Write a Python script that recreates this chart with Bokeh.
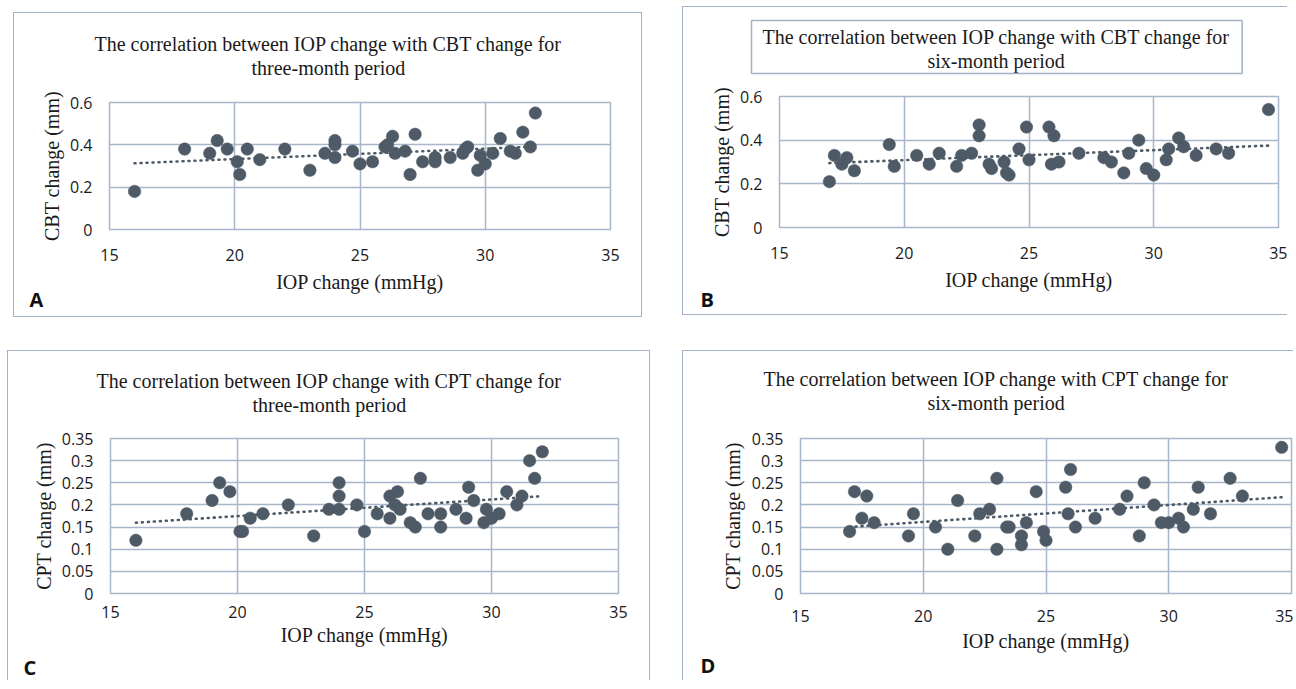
import numpy as np
from bokeh.plotting import figure
from bokeh.layouts import column, row
from bokeh.models import Title, FixedTicker
from bokeh.embed import file_html
from bokeh.resources import INLINE

# ---------------- data ----------------
x_ticks = [15, 20, 25, 30, 35]
cbt_ticks = [0, 0.2, 0.4, 0.6]
cbt_tick_labels = ["0", "0.2", "0.4", "0.6"]
cpt_ticks = [0, 0.05, 0.1, 0.15, 0.2, 0.25, 0.3, 0.35]
cpt_tick_labels = ["0", "0.05", "0.1", "0.15", "0.2", "0.25", "0.3", "0.35"]

iop_a = [16, 18, 19, 19.3, 19.7, 20.1, 20.2, 20.5, 21, 22, 23, 23.6, 24, 24, 24,
         24.7, 25, 25.5, 26, 26.1, 26.3, 26.4, 26.8, 27, 27.2, 27.5, 28, 28, 28.6,
         29.1, 29.2, 29.3, 29.7, 29.8, 30, 30.3, 30.6, 31, 31.2, 31.5, 31.8, 32]
cbt_a = [0.18, 0.38, 0.36, 0.42, 0.38, 0.32, 0.26, 0.38, 0.33, 0.38, 0.28, 0.36,
         0.42, 0.40, 0.34, 0.37, 0.31, 0.32, 0.39, 0.40, 0.44, 0.36, 0.37, 0.26,
         0.45, 0.32, 0.34, 0.32, 0.34, 0.36, 0.38, 0.39, 0.28, 0.35, 0.31, 0.36,
         0.43, 0.37, 0.36, 0.46, 0.39, 0.55]

iop_b = [17, 17.2, 17.5, 17.7, 18, 19.4, 19.6, 20.5, 21, 21.4, 22.1, 22.3, 22.7,
         23, 23, 23.4, 23.5, 24, 24.1, 24.2, 24.6, 24.9, 25, 25.8, 26, 25.9, 26.2,
         27, 28, 28.3, 28.8, 29, 29.4, 29.7, 30, 30.5, 30.6, 31, 31.2, 31.7, 32.5,
         33, 34.6]
cbt_b = [0.21, 0.33, 0.29, 0.32, 0.26, 0.38, 0.28, 0.33, 0.29, 0.34, 0.28, 0.33,
         0.34, 0.47, 0.42, 0.29, 0.27, 0.30, 0.25, 0.24, 0.36, 0.46, 0.31, 0.46,
         0.42, 0.29, 0.30, 0.34, 0.32, 0.30, 0.25, 0.34, 0.40, 0.27, 0.24, 0.31,
         0.36, 0.41, 0.37, 0.33, 0.36, 0.34, 0.54]

iop_c = [16, 18, 19, 19.3, 19.7, 20.1, 20.2, 20.5, 21, 22, 23, 23.6, 24, 24, 24,
         24.7, 25, 25.5, 26, 26, 26.2, 26.3, 26.4, 26.8, 27, 27.2, 27.5, 28, 28,
         28.6, 29, 29.1, 29.3, 29.7, 29.8, 30, 30.3, 30.6, 31, 31.2, 31.5, 31.7, 32]
cpt_c = [0.12, 0.18, 0.21, 0.25, 0.23, 0.14, 0.14, 0.17, 0.18, 0.20, 0.13, 0.19,
         0.25, 0.22, 0.19, 0.20, 0.14, 0.18, 0.22, 0.17, 0.20, 0.23, 0.19, 0.16,
         0.15, 0.26, 0.18, 0.18, 0.15, 0.19, 0.17, 0.24, 0.21, 0.16, 0.19, 0.17,
         0.18, 0.23, 0.20, 0.22, 0.30, 0.26, 0.32]

iop_d = [17, 17.2, 17.5, 17.7, 18, 19.4, 19.6, 20.5, 21, 21.4, 22.1, 22.3, 22.7,
         23, 23, 23.4, 23.5, 24, 24, 24.2, 24.6, 24.9, 25, 25.8, 25.9, 26, 26.2,
         27, 28, 28.3, 28.8, 29, 29.4, 29.7, 30, 30.4, 30.6, 31, 31.2, 31.7, 32.5,
         33, 34.6]
cpt_d = [0.14, 0.23, 0.17, 0.22, 0.16, 0.13, 0.18, 0.15, 0.10, 0.21, 0.13, 0.18,
         0.19, 0.26, 0.10, 0.15, 0.15, 0.13, 0.11, 0.16, 0.23, 0.14, 0.12, 0.24,
         0.18, 0.28, 0.15, 0.17, 0.19, 0.22, 0.13, 0.25, 0.20, 0.16, 0.16, 0.17,
         0.15, 0.19, 0.24, 0.18, 0.26, 0.22, 0.33]

title_a = ["The correlation between IOP change with CBT change for", "three-month period"]
title_b = ["The correlation between IOP change with CBT change for", "six-month period"]
title_c = ["The correlation between IOP change with CPT change for", "three-month period"]
title_d = ["The correlation between IOP change with CPT change for", "six-month period"]
x_label = "IOP change (mmHg)"
y_label_cbt = "CBT change (mm)"
y_label_cpt = "CPT change (mm)"

# ---------------- style ----------------
SERIF = "Liberation Serif"
SANS = "Open Sans"
GRID = "#a7b6cb"
PANEL_BORDER = "#a3b2c8"
DOT = "#4e5b66"
TXT = "#1a1a1a"
TSIZE = 20

# Times / Liberation Serif advance widths (1/1000 em), used only to centre lines
_W = {' ': 250, 'T': 611, 'h': 500, 'e': 444, 'c': 444, 'o': 500, 'r': 333,
      'l': 278, 'a': 444, 't': 278, 'i': 278, 'n': 500, 'b': 500, 'w': 722,
      'I': 333, 'O': 722, 'P': 556, 'g': 500, 'C': 667, 'B': 667, 'f': 333,
      's': 389, 'x': 500, 'm': 778, '-': 333, 'p': 500, 'd': 500}


def text_w(s):
    return sum(_W.get(ch, 500) for ch in s) * TSIZE / 1000.0


def make_panel(W, H, left, right, top, bottom, ymax, yticks, ylabels, xs, ys,
               lines, ylab, letter, title_cx, line2_standoff, letter_x,
               letter_standoff, sides, box=None, margin=(0, 0, 0, 0),
               ylab_standoff=4, letter_above_bottom=None, x_standoffs=(19, 7)):
    p = figure(width=W, height=H, x_range=(15, 35), y_range=(0, ymax),
               output_backend="svg", toolbar_location=None, title=None,
               min_border_left=left, min_border_right=right,
               min_border_top=top, min_border_bottom=bottom)
    p.margin = margin
    st = {"box-sizing": "border-box"}
    for s in ["top", "right", "bottom", "left"]:
        st["border-" + s] = ("1.5px solid " + PANEL_BORDER) if s in sides else "none"
    p.styles = st
    p.background_fill_color = "white"
    p.border_fill_color = "white"
    p.outline_line_color = GRID
    p.outline_line_width = 1.5

    p.xaxis.ticker = FixedTicker(ticks=x_ticks)
    p.yaxis.ticker = FixedTicker(ticks=yticks)
    p.yaxis.major_label_overrides = {t: l for t, l in zip(yticks, ylabels)}
    for ax in (p.xaxis, p.yaxis):
        ax.axis_line_color = None
        ax.major_tick_line_color = None
        ax.minor_tick_line_color = None
        ax.major_tick_out = 0
        ax.major_tick_in = 0
        ax.minor_tick_out = 0
        ax.minor_tick_in = 0
        ax.major_label_text_font = SANS
        ax.major_label_text_font_size = "16px"
        ax.major_label_text_color = TXT
        ax.axis_label_text_font = SERIF
        ax.axis_label_text_font_size = "20px"
        ax.axis_label_text_font_style = "normal"
        ax.axis_label_text_color = TXT
    p.xaxis.axis_label = x_label
    p.yaxis.axis_label = ylab
    p.xaxis.major_label_standoff = x_standoffs[0]
    p.xaxis.axis_label_standoff = x_standoffs[1]
    p.yaxis.major_label_standoff = 17
    p.yaxis.axis_label_standoff = ylab_standoff

    p.xgrid.ticker = FixedTicker(ticks=x_ticks)
    p.ygrid.ticker = FixedTicker(ticks=yticks)
    p.grid.grid_line_color = GRID
    p.grid.grid_line_width = 1.5

    # trendline (linear least squares on the data)
    coef = np.polyfit(xs, ys, 1)
    xt = np.array([min(xs), max(xs)])
    p.line(xt, np.polyval(coef, xt), line_color=DOT, line_width=2.6,
           line_dash="1 5", line_cap="round")
    p.scatter(xs, ys, size=12.5, fill_color=DOT, line_color=DOT, line_width=0.5)

    # two centred title lines, stacked above the frame (first added = nearest)
    common = dict(align="left", vertical_align="bottom", text_font=SERIF,
                  text_font_size=f"{TSIZE}px", text_font_style="normal",
                  text_color=TXT)
    w2 = text_w(lines[1])
    t2 = Title(text=lines[1], offset=round(title_cx - w2 / 2 - left),
               standoff=line2_standoff, **common)
    w1 = text_w(lines[0])
    t1 = Title(text=lines[0], offset=round(title_cx - w1 / 2 - left),
               standoff=-line2_standoff, **common)
    if box is not None:
        bl, br, bt, bb = box  # box edges in figure pixels
        tl = title_cx - w1 / 2
        tr = title_cx + w1 / 2
        line1_bottom = top - line2_standoff / 2 - 24
        pad_b = int(round(bb - line1_bottom))
        t1.border_line_color = PANEL_BORDER
        t1.border_line_width = 1.5
        t1.padding = dict(left=int(round(tl - bl)), right=int(round(br - tr)),
                          top=int(round(line1_bottom - 22 - bt)), bottom=pad_b)
        t1.offset = bl - left
        t1.standoff = -line2_standoff - 2 * pad_b
    p.add_layout(t2, "above")
    p.add_layout(t1, "above")

    letter_kw = dict(text=letter, align="left", vertical_align="bottom",
                     offset=letter_x - left, text_font=SANS,
                     text_font_size="20px", text_font_style="bold",
                     text_color="#111111")
    if letter_above_bottom is None:
        p.add_layout(Title(standoff=letter_standoff, **letter_kw), "below")
    else:
        # outermost title of the top panel, pushed down to the panel's foot
        base = top - (24 + line2_standoff)
        p.add_layout(Title(standoff=-2 * (letter_above_bottom - base),
                           **letter_kw), "above")
    return p


pA = make_panel(629, 305, 95, 33, 87, 87, 0.6, cbt_ticks, cbt_tick_labels,
                iop_a, cbt_a, title_a, y_label_cbt, "A", 314, 48, 15, -24,
                ["top", "right", "bottom", "left"], margin=(12, 0, 0, 13))
pB = make_panel(605, 309, 96, 10, 89, 89, 0.6, cbt_ticks, cbt_tick_labels,
                iop_b, cbt_b, title_b, y_label_cbt, "B", 313, 50, 17, -20,
                ["top", "bottom", "left"], box=(68, 559, 13, 66),
                margin=(6, 0, 0, 40))
pC = make_panel(643, 330, 102, 33, 86, 78, 0.35, cpt_ticks, cpt_tick_labels,
                iop_c, cpt_c, title_c, y_label_cpt, "C", 321, 46, 15, 0,
                ["top", "right", "left"], margin=(33, 0, 0, 7),
                letter_above_bottom=328, x_standoffs=(12, 3))
pD = make_panel(611, 330, 117, 3, 87, 88, 0.35, cpt_ticks, cpt_tick_labels,
                iop_d, cpt_d, title_d, y_label_cpt, "D", 313, 50, 17, 0,
                ["top", "left"], margin=(33, 0, 0, 32), ylab_standoff=5,
                letter_above_bottom=327, x_standoffs=(16, 5))

layout = column(row(pA, pB), row(pC, pD))
open("out.html", "w").write(file_html(layout, INLINE))
